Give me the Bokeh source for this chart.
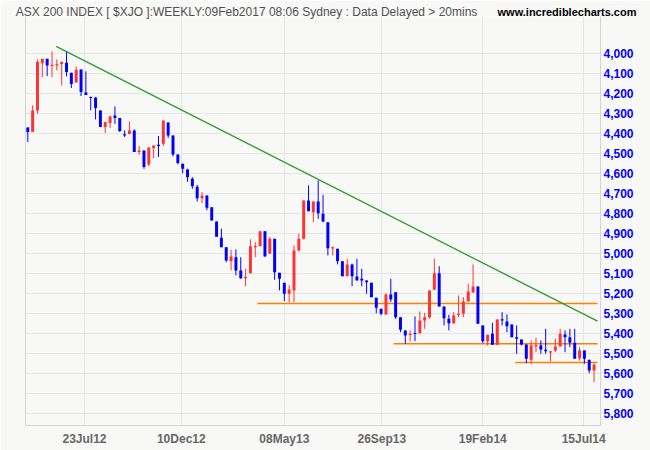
import numpy as np
import pandas as pd
from bokeh.plotting import figure
from bokeh.models import (Range1d, FixedTicker, DatetimeTickFormatter, NumeralTickFormatter,
                          LinearAxis, ColumnDataSource)
from bokeh.embed import file_html
from bokeh.resources import INLINE

# ---------------- data (weekly ASX 200 candles) ----------------
first_week = "2012-05-02"

opens = [4368, 4391, 4283, 4047, 4025, 4060, 4058, 4051, 4045, 4095,
         4143, 4078, 4193, 4216, 4218, 4283, 4366, 4346, 4308, 4321,
         4403, 4401, 4383, 4491, 4483, 4553, 4471, 4455, 4450, 4343,
         4408, 4503, 4550, 4578, 4625, 4665, 4722, 4708, 4767, 4838,
         4920, 4967, 5037, 5017, 5083, 5122, 5097, 4967, 4962, 4887,
         5000, 4925, 5095, 5145, 5200, 5183, 4983, 4925, 4733, 4792,
         4738, 4800, 4842, 4972, 4975, 5037, 5112, 5053, 5113, 5125,
         5133, 5145, 5220, 5275, 5303, 5203, 5192, 5317, 5383, 5405,
         5397, 5397, 5333, 5317, 5180, 5097, 5263, 5325, 5347, 5305,
         5300, 5238, 5192, 5163, 5358, 5437, 5400, 5455, 5328, 5338,
         5353, 5417, 5428, 5453, 5530, 5462, 5458, 5480, 5492, 5483,
         5463, 5403, 5417, 5445, 5522, 5483, 5530, 5583]
highs = [4441, 4391, 4300, 4116, 4111, 4116, 4083, 4158, 4113, 4171,
         4143, 4211, 4206, 4283, 4328, 4366, 4396, 4371, 4350, 4391,
         4416, 4401, 4491, 4505, 4575, 4563, 4521, 4516, 4461, 4421,
         4513, 4553, 4597, 4640, 4675, 4738, 4747, 4782, 4833, 4915,
         4967, 5042, 5083, 5108, 5125, 5163, 5097, 5017, 4962, 5017,
         5000, 5130, 5183, 5237, 5242, 5242, 4988, 4928, 4787, 4842,
         4825, 4842, 5008, 5008, 5053, 5112, 5112, 5162, 5133, 5162,
         5200, 5217, 5297, 5308, 5303, 5240, 5325, 5392, 5450, 5437,
         5437, 5400, 5375, 5325, 5180, 5263, 5358, 5383, 5350, 5317,
         5317, 5238, 5197, 5350, 5447, 5458, 5455, 5455, 5358, 5392,
         5417, 5500, 5458, 5547, 5550, 5492, 5500, 5500, 5538, 5492,
         5463, 5492, 5467, 5525, 5533, 5550, 5597, 5642]
lows = [4368, 4258, 4028, 4025, 4025, 3988, 4028, 4038, 3988, 4095,
        4063, 4078, 4088, 4213, 4218, 4283, 4341, 4308, 4263, 4321,
        4383, 4338, 4378, 4461, 4483, 4468, 4458, 4411, 4333, 4343,
        4408, 4503, 4550, 4575, 4617, 4655, 4692, 4708, 4767, 4838,
        4875, 4967, 4980, 4978, 5017, 5075, 4928, 4942, 4887, 4887,
        4917, 4925, 5095, 5145, 5158, 4958, 4900, 4733, 4658, 4738,
        4633, 4705, 4842, 4963, 4975, 5037, 5025, 5050, 5025, 5075,
        5133, 5145, 5220, 5275, 5197, 5125, 5192, 5317, 5383, 5383,
        5313, 5288, 5295, 5183, 5025, 5062, 5263, 5305, 5292, 5208,
        5217, 5150, 5053, 5163, 5358, 5405, 5345, 5328, 5292, 5303,
        5353, 5358, 5428, 5453, 5433, 5420, 5433, 5375, 5488, 5425,
        5375, 5383, 5375, 5375, 5467, 5483, 5530, 5547]
closes = [4391, 4283, 4041, 4025, 4058, 4055, 4053, 4041, 4091, 4151,
          4080, 4191, 4206, 4221, 4271, 4366, 4341, 4313, 4321, 4386,
          4408, 4383, 4491, 4483, 4566, 4468, 4458, 4460, 4333, 4408,
          4503, 4546, 4575, 4617, 4662, 4722, 4708, 4770, 4833, 4915,
          4967, 5033, 5013, 5083, 5122, 5117, 4962, 4962, 4887, 5012,
          4925, 5092, 5125, 5200, 5178, 4983, 4925, 4733, 4787, 4738,
          4797, 4838, 4972, 4968, 5037, 5112, 5053, 5112, 5133, 5133,
          5142, 5217, 5270, 5300, 5203, 5228, 5317, 5380, 5408, 5400,
          5400, 5333, 5317, 5183, 5097, 5263, 5322, 5347, 5308, 5300,
          5238, 5188, 5163, 5350, 5437, 5405, 5455, 5328, 5333, 5362,
          5417, 5425, 5453, 5525, 5458, 5458, 5478, 5487, 5488, 5463,
          5400, 5417, 5445, 5525, 5483, 5525, 5583, 5555]

tick_dates = ["2012-07-23", "2012-12-10", "2013-05-08", "2013-09-26", "2014-02-19", "2014-07-15"]
price_ticks = list(range(4000, 5801, 100))

trend_dates = ["2012-06-12", "2014-08-04"]
trend_prices = [3963, 5337]

support_levels = [5248, 5450, 5543]
support_starts = ["2013-03-30", "2013-10-13", "2014-04-07"]
support_end = "2014-08-04"

title_text = "ASX 200 INDEX [ $XJO ]:WEEKLY:09Feb2017 08:06 Sydney : Data Delayed > 20mins"
site_text = "www.incrediblecharts.com"

# ---------------- styling ----------------
BG = "#f8f9f7"
UP = "#0000ff"
DOWN = "#ff3333"
GRID = "#e4e6e4"
BORDER = "#d2d4d2"
FONT = "Liberation Sans"
Y_TOP, Y_BOTTOM = 3813.5, 5858.5

dates = pd.date_range(first_week, periods=len(opens), freq="7D")
o = np.array(opens, float)
c = np.array(closes, float)
top = np.maximum(o, c)
bot = np.minimum(o, c)
mid = (top + bot) / 2
small = (top - bot) < 6
top = np.where(small, mid + 3, top)
bot = np.where(small, mid - 3, bot)
colors = [UP if cc > oo else DOWN for oo, cc in zip(opens, closes)]

src = ColumnDataSource(dict(date=dates, high=highs, low=lows, top=top, bottom=bot, color=colors))

x_start = dates[0] - pd.Timedelta(days=3.33)
x_end = dates[0] + pd.Timedelta(days=828.3)

p = figure(width=650, height=450, x_axis_type="datetime", y_axis_location="right",
           x_range=Range1d(x_start, x_end), y_range=Range1d(Y_BOTTOM, Y_TOP),
           output_backend="svg", toolbar_location=None, tools="",
           min_border_left=25, min_border_right=50, min_border_top=16, min_border_bottom=25,
           background_fill_color=BG, border_fill_color=BG, outline_line_color=None)

tick_ms = [pd.Timestamp(d).value / 1e6 for d in tick_dates]

xa = p.xaxis[0]
xa.ticker = FixedTicker(ticks=tick_ms)
fmt = DatetimeTickFormatter(days="%d%b%y", months="%d%b%y", years="%d%b%y")
if "strip_leading_zeros" in fmt.properties():
    fmt.strip_leading_zeros = False
xa.formatter = fmt
xa.major_tick_line_color = None
xa.minor_tick_line_color = None
xa.major_tick_out = 0
xa.minor_tick_out = 0
xa.major_label_standoff = 6
xa.axis_line_color = BORDER
xa.major_label_text_font = FONT
xa.major_label_text_font_size = "12px"
xa.major_label_text_font_style = "bold"
xa.major_label_text_color = "#666666"

ya = p.yaxis[0]
ya.ticker = FixedTicker(ticks=price_ticks)
ya.formatter = NumeralTickFormatter(format="0,0")
ya.major_tick_line_color = None
ya.minor_tick_line_color = None
ya.major_tick_out = 0
ya.minor_tick_out = 0
ya.major_label_standoff = 3
ya.axis_line_color = BORDER
ya.major_label_text_font = FONT
ya.major_label_text_font_size = "12px"
ya.major_label_text_font_style = "bold"
ya.major_label_text_color = "#0000ff"

left_axis = LinearAxis(ticker=FixedTicker(ticks=[]), axis_line_color=BORDER,
                       major_tick_line_color=None, minor_tick_line_color=None,
                       major_tick_out=0, minor_tick_out=0, major_label_standoff=0,
                       major_label_text_font_size="0px")
p.add_layout(left_axis, "left")

p.xgrid.ticker = FixedTicker(ticks=tick_ms)
p.ygrid.ticker = FixedTicker(ticks=price_ticks)
p.xgrid.grid_line_color = GRID
p.ygrid.grid_line_color = GRID

# header texts: labels of two tick-less axes above the frame
x0_ms = pd.Timestamp(x_start).value / 1e6
x1_ms = pd.Timestamp(x_end).value / 1e6
span_ms = x1_ms - x0_ms
title_tick = int(x0_ms + span_ms * (246 - 25) / 575)
site_tick = int(x0_ms + span_ms * (566.5 - 25) / 575)


def header_axis(tick, text, size, style, color, standoff):
    ax = LinearAxis(ticker=FixedTicker(ticks=[tick]), major_label_overrides={tick: text},
                    axis_line_color=None, major_tick_line_color=None, minor_tick_line_color=None,
                    major_tick_out=0, major_tick_in=0, minor_tick_out=0, minor_tick_in=0,
                    major_label_standoff=standoff, major_label_text_font=FONT,
                    major_label_text_font_size=size, major_label_text_font_style=style,
                    major_label_text_color=color)
    p.add_layout(ax, "above")


header_axis(title_tick, title_text, "12px", "normal", "#505050", -2)   # nearest the frame
header_axis(site_tick, site_text, "11px", "bold", "#000000", -16)      # pulled down onto the same row

# support lines
p.segment(x0=pd.to_datetime(support_starts), x1=[pd.Timestamp(support_end)] * len(support_levels),
          y0=support_levels, y1=support_levels, line_color="#ff8000", line_width=1.5)

# candles
p.segment(x0="date", x1="date", y0="low", y1="high", line_color="color", line_width=1, source=src)
body_w = pd.Timedelta(days=4.3).total_seconds() * 1000
p.vbar(x="date", width=body_w, top="top", bottom="bottom", fill_color="color",
       line_color=None, source=src)

# trend line
p.line(x=pd.to_datetime(trend_dates), y=trend_prices, line_color="#2e9a2e", line_width=1.3)

open("out.html", "w").write(file_html(p, INLINE))
